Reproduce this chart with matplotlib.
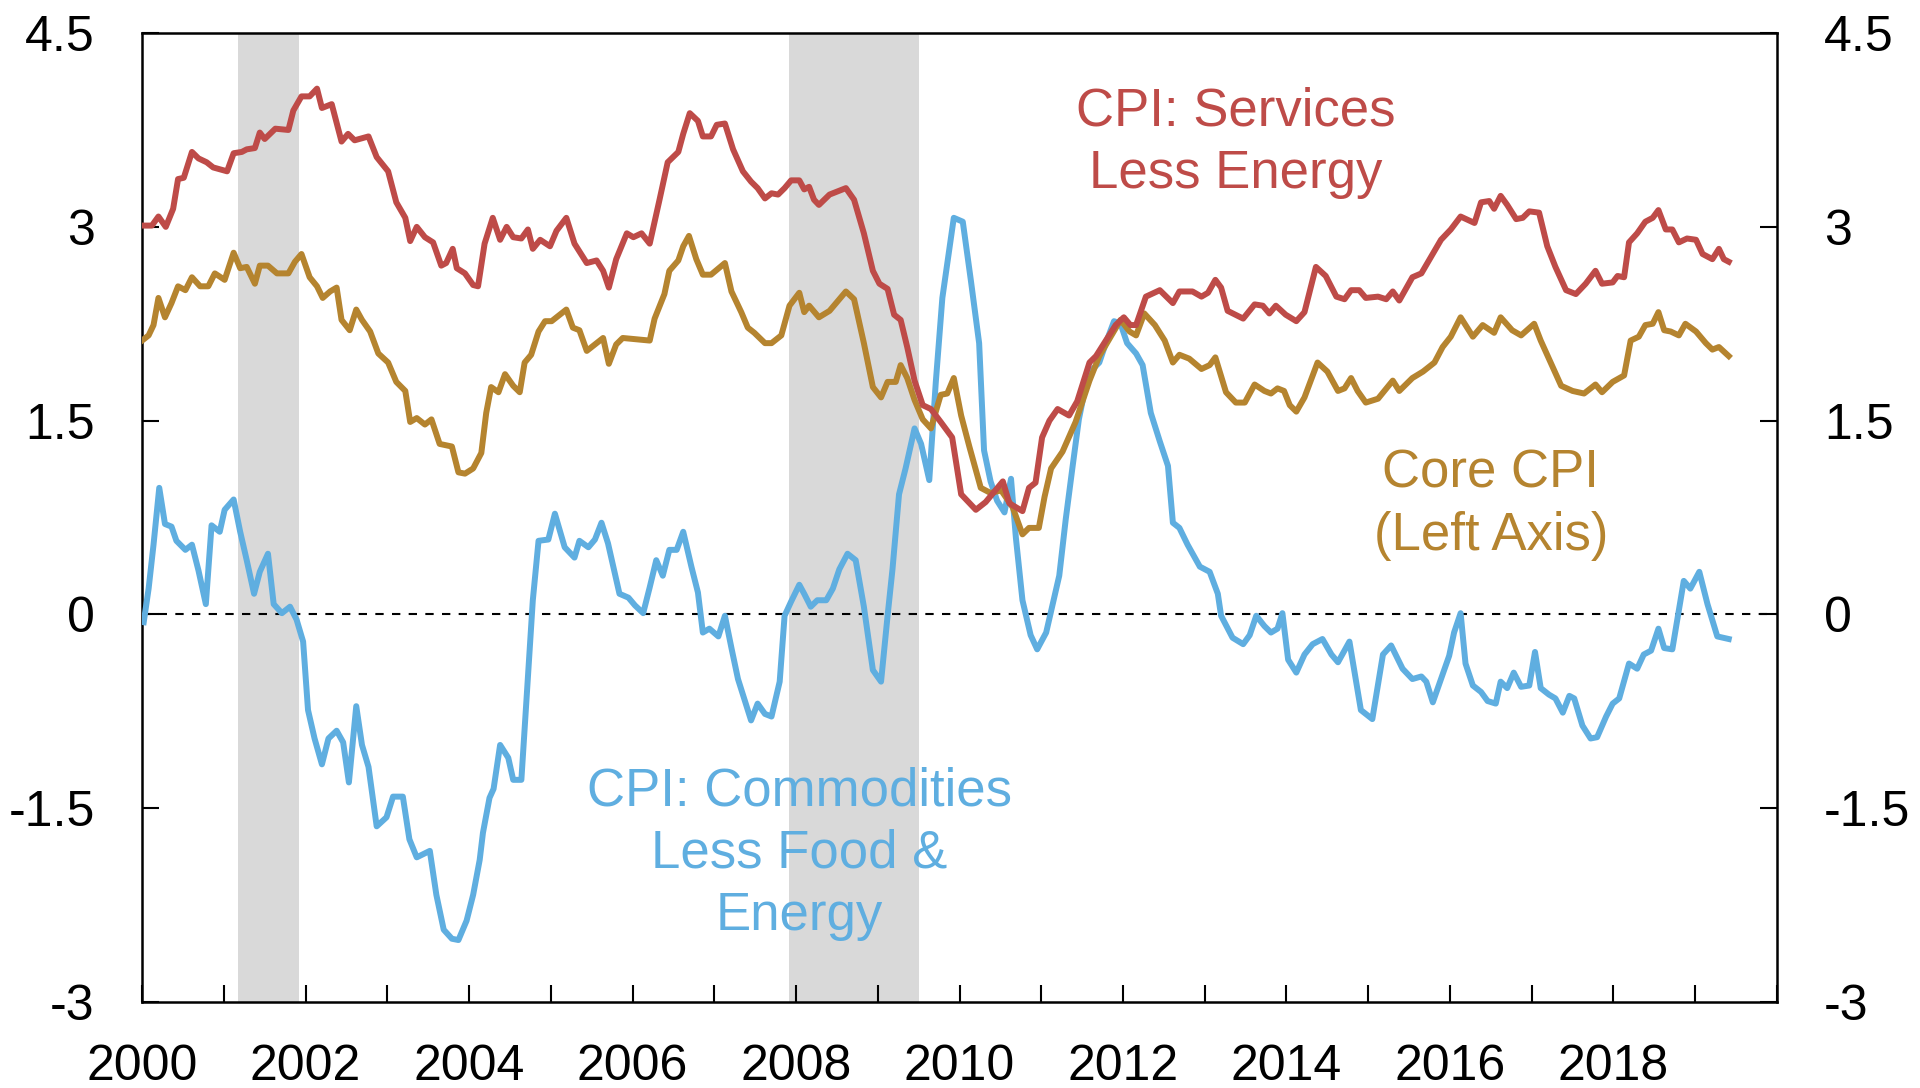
#!/usr/bin/env python

import matplotlib
matplotlib.use("Agg")
import matplotlib.pyplot as plt
from matplotlib.ticker import MultipleLocator

# ---- data (year fraction, y/y % change) ----
srv_years = [2000.0, 2000.12, 2000.20, 2000.29, 2000.38, 2000.44, 2000.51, 2000.61, 2000.69, 2000.79,
             2000.87, 2001.04, 2001.12, 2001.22, 2001.28, 2001.38, 2001.44, 2001.50, 2001.63, 2001.79,
             2001.85, 2001.95, 2002.05, 2002.14, 2002.20, 2002.32, 2002.44, 2002.52, 2002.60, 2002.77,
             2002.87, 2003.01, 2003.11, 2003.22, 2003.28, 2003.36, 2003.46, 2003.56, 2003.66, 2003.72,
             2003.80, 2003.85, 2003.95, 2004.05, 2004.11, 2004.19, 2004.29, 2004.38, 2004.46, 2004.54,
             2004.64, 2004.72, 2004.78, 2004.87, 2004.99, 2005.07, 2005.19, 2005.29, 2005.44, 2005.56,
             2005.64, 2005.71, 2005.80, 2005.93, 2006.01, 2006.11, 2006.21, 2006.33, 2006.43, 2006.56,
             2006.62, 2006.70, 2006.80, 2006.86, 2006.96, 2007.03, 2007.13, 2007.23, 2007.35, 2007.45,
             2007.53, 2007.62, 2007.70, 2007.78, 2007.86, 2007.94, 2008.04, 2008.10, 2008.16, 2008.22,
             2008.28, 2008.41, 2008.61, 2008.71, 2008.83, 2008.94, 2009.02, 2009.12, 2009.20, 2009.28,
             2009.36, 2009.45, 2009.55, 2009.65, 2009.77, 2009.91, 2010.02, 2010.20, 2010.32, 2010.53,
             2010.61, 2010.77, 2010.85, 2010.93, 2011.01, 2011.10, 2011.20, 2011.34, 2011.44, 2011.59,
             2011.67, 2011.79, 2011.91, 2012.01, 2012.09, 2012.16, 2012.28, 2012.45, 2012.61, 2012.69,
             2012.85, 2012.96, 2013.04, 2013.13, 2013.20, 2013.28, 2013.47, 2013.61, 2013.71, 2013.79,
             2013.87, 2013.99, 2014.12, 2014.22, 2014.36, 2014.48, 2014.61, 2014.71, 2014.79, 2014.89,
             2014.97, 2015.12, 2015.22, 2015.30, 2015.38, 2015.54, 2015.65, 2015.89, 2016.01, 2016.13,
             2016.30, 2016.38, 2016.48, 2016.54, 2016.62, 2016.70, 2016.81, 2016.89, 2016.97, 2017.09,
             2017.19, 2017.29, 2017.42, 2017.54, 2017.66, 2017.78, 2017.86, 2017.99, 2018.05, 2018.13,
             2018.19, 2018.29, 2018.39, 2018.48, 2018.55, 2018.64, 2018.72, 2018.80, 2018.90, 2019.01,
             2019.09, 2019.21, 2019.29, 2019.35, 2019.41]
srv_vals = [3.01, 3.01, 3.08, 3.00, 3.14, 3.37, 3.38, 3.58, 3.53, 3.50,
            3.46, 3.43, 3.57, 3.58, 3.60, 3.61, 3.73, 3.68, 3.76, 3.75,
            3.90, 4.01, 4.01, 4.07, 3.92, 3.95, 3.66, 3.72, 3.67, 3.70,
            3.54, 3.43, 3.19, 3.07, 2.89, 3.00, 2.92, 2.88, 2.70, 2.72,
            2.83, 2.68, 2.64, 2.55, 2.54, 2.87, 3.07, 2.90, 3.00, 2.92,
            2.91, 2.98, 2.83, 2.90, 2.85, 2.97, 3.07, 2.87, 2.72, 2.74,
            2.66, 2.53, 2.75, 2.95, 2.92, 2.95, 2.87, 3.21, 3.50, 3.58,
            3.72, 3.88, 3.82, 3.70, 3.70, 3.79, 3.80, 3.60, 3.43, 3.35,
            3.30, 3.22, 3.26, 3.25, 3.30, 3.36, 3.36, 3.29, 3.31, 3.21,
            3.17, 3.25, 3.30, 3.21, 2.95, 2.66, 2.56, 2.52, 2.32, 2.28,
            2.07, 1.81, 1.62, 1.59, 1.49, 1.37, 0.93, 0.81, 0.87, 1.03,
            0.86, 0.80, 0.98, 1.02, 1.37, 1.50, 1.59, 1.54, 1.65, 1.95,
            2.00, 2.12, 2.24, 2.30, 2.24, 2.24, 2.46, 2.51, 2.41, 2.50,
            2.50, 2.46, 2.49, 2.59, 2.53, 2.35, 2.29, 2.40, 2.39, 2.33,
            2.39, 2.32, 2.27, 2.34, 2.69, 2.62, 2.46, 2.44, 2.51, 2.51,
            2.45, 2.46, 2.44, 2.50, 2.43, 2.61, 2.64, 2.90, 2.98, 3.08,
            3.03, 3.19, 3.20, 3.14, 3.24, 3.17, 3.06, 3.07, 3.12, 3.11,
            2.85, 2.69, 2.51, 2.48, 2.56, 2.66, 2.56, 2.57, 2.62, 2.61,
            2.88, 2.95, 3.04, 3.07, 3.13, 2.98, 2.98, 2.88, 2.91, 2.90,
            2.79, 2.75, 2.83, 2.75, 2.73]

core_years = [2000.0, 2000.08, 2000.14, 2000.20, 2000.28, 2000.36, 2000.44, 2000.53, 2000.61, 2000.71,
              2000.81, 2000.89, 2001.01, 2001.12, 2001.20, 2001.28, 2001.38, 2001.44, 2001.54, 2001.65,
              2001.79, 2001.87, 2001.95, 2002.05, 2002.14, 2002.21, 2002.30, 2002.38, 2002.44, 2002.54,
              2002.62, 2002.69, 2002.79, 2002.89, 2003.01, 2003.11, 2003.22, 2003.28, 2003.36, 2003.46,
              2003.54, 2003.64, 2003.79, 2003.87, 2003.95, 2004.05, 2004.15, 2004.21, 2004.27, 2004.36,
              2004.44, 2004.54, 2004.62, 2004.68, 2004.76, 2004.85, 2004.93, 2005.01, 2005.11, 2005.19,
              2005.27, 2005.35, 2005.44, 2005.54, 2005.64, 2005.71, 2005.80, 2005.88, 2006.05, 2006.21,
              2006.27, 2006.39, 2006.45, 2006.56, 2006.62, 2006.69, 2006.78, 2006.86, 2006.96, 2007.13,
              2007.21, 2007.33, 2007.41, 2007.49, 2007.62, 2007.70, 2007.82, 2007.92, 2008.04, 2008.10,
              2008.16, 2008.28, 2008.41, 2008.61, 2008.71, 2008.83, 2008.94, 2009.04, 2009.12, 2009.22,
              2009.28, 2009.36, 2009.45, 2009.55, 2009.65, 2009.77, 2009.85, 2009.93, 2010.02, 2010.12,
              2010.26, 2010.38, 2010.51, 2010.65, 2010.77, 2010.85, 2010.97, 2011.04, 2011.12, 2011.26,
              2011.42, 2011.59, 2011.71, 2011.85, 2011.97, 2012.08, 2012.16, 2012.26, 2012.39, 2012.51,
              2012.61, 2012.69, 2012.81, 2012.96, 2013.06, 2013.13, 2013.26, 2013.38, 2013.49, 2013.61,
              2013.73, 2013.81, 2013.89, 2013.97, 2014.04, 2014.12, 2014.22, 2014.38, 2014.50, 2014.63,
              2014.71, 2014.79, 2014.87, 2014.97, 2015.12, 2015.30, 2015.38, 2015.54, 2015.67, 2015.81,
              2015.91, 2016.01, 2016.13, 2016.28, 2016.40, 2016.54, 2016.62, 2016.76, 2016.87, 2017.03,
              2017.11, 2017.21, 2017.36, 2017.50, 2017.64, 2017.78, 2017.86, 2017.99, 2018.13, 2018.21,
              2018.31, 2018.39, 2018.48, 2018.55, 2018.62, 2018.70, 2018.80, 2018.88, 2019.01, 2019.13,
              2019.21, 2019.29, 2019.41]
core_vals = [2.12, 2.16, 2.24, 2.45, 2.30, 2.41, 2.54, 2.51, 2.61, 2.54,
             2.54, 2.64, 2.59, 2.80, 2.68, 2.69, 2.56, 2.70, 2.70, 2.64,
             2.64, 2.73, 2.79, 2.61, 2.54, 2.45, 2.50, 2.53, 2.28, 2.20,
             2.36, 2.28, 2.19, 2.02, 1.95, 1.80, 1.73, 1.49, 1.52, 1.47,
             1.51, 1.32, 1.30, 1.10, 1.09, 1.13, 1.25, 1.56, 1.76, 1.72,
             1.86, 1.77, 1.72, 1.95, 2.01, 2.19, 2.27, 2.27, 2.32, 2.36,
             2.22, 2.20, 2.04, 2.09, 2.14, 1.94, 2.09, 2.14, 2.13, 2.12,
             2.29, 2.48, 2.66, 2.74, 2.85, 2.93, 2.75, 2.63, 2.63, 2.72,
             2.50, 2.34, 2.22, 2.18, 2.10, 2.10, 2.16, 2.39, 2.49, 2.34,
             2.39, 2.30, 2.35, 2.50, 2.44, 2.10, 1.76, 1.68, 1.80, 1.80,
             1.93, 1.83, 1.66, 1.51, 1.44, 1.70, 1.71, 1.83, 1.54, 1.30,
             0.98, 0.94, 0.96, 0.83, 0.62, 0.67, 0.67, 0.91, 1.13, 1.26,
             1.49, 1.81, 2.00, 2.15, 2.28, 2.19, 2.16, 2.33, 2.24, 2.12,
             1.95, 2.01, 1.98, 1.90, 1.93, 1.99, 1.72, 1.64, 1.64, 1.78,
             1.73, 1.71, 1.75, 1.73, 1.62, 1.57, 1.68, 1.95, 1.88, 1.73,
             1.75, 1.83, 1.73, 1.64, 1.67, 1.81, 1.73, 1.83, 1.88, 1.95,
             2.07, 2.15, 2.30, 2.15, 2.24, 2.18, 2.30, 2.20, 2.16, 2.25,
             2.12, 1.98, 1.77, 1.73, 1.71, 1.78, 1.72, 1.80, 1.85, 2.12,
             2.15, 2.24, 2.25, 2.34, 2.20, 2.19, 2.16, 2.25, 2.19, 2.10,
             2.05, 2.07, 2.00]

cmd_years = [2000.02, 2000.08, 2000.14, 2000.21, 2000.28, 2000.36, 2000.42, 2000.53, 2000.61, 2000.69,
             2000.78, 2000.85, 2000.95, 2001.01, 2001.12, 2001.20, 2001.28, 2001.37, 2001.44, 2001.54,
             2001.61, 2001.71, 2001.81, 2001.89, 2001.97, 2002.03, 2002.11, 2002.20, 2002.28, 2002.38,
             2002.46, 2002.53, 2002.62, 2002.69, 2002.77, 2002.87, 2002.99, 2003.07, 2003.19, 2003.27,
             2003.36, 2003.52, 2003.60, 2003.69, 2003.79, 2003.87, 2003.97, 2004.05, 2004.13, 2004.17,
             2004.25, 2004.30, 2004.38, 2004.48, 2004.54, 2004.64, 2004.72, 2004.78, 2004.85, 2004.97,
             2005.05, 2005.17, 2005.29, 2005.35, 2005.46, 2005.54, 2005.62, 2005.70, 2005.84, 2005.95,
             2006.03, 2006.13, 2006.21, 2006.29, 2006.37, 2006.45, 2006.54, 2006.62, 2006.72, 2006.80,
             2006.86, 2006.94, 2007.05, 2007.13, 2007.21, 2007.29, 2007.37, 2007.45, 2007.53, 2007.62,
             2007.70, 2007.80, 2007.86, 2007.94, 2008.04, 2008.10, 2008.18, 2008.26, 2008.37, 2008.45,
             2008.53, 2008.63, 2008.73, 2008.83, 2008.94, 2009.04, 2009.12, 2009.18, 2009.26, 2009.34,
             2009.45, 2009.53, 2009.63, 2009.71, 2009.79, 2009.93, 2010.04, 2010.14, 2010.24, 2010.30,
             2010.38, 2010.46, 2010.55, 2010.63, 2010.69, 2010.77, 2010.87, 2010.95, 2011.06, 2011.14,
             2011.22, 2011.30, 2011.38, 2011.46, 2011.54, 2011.63, 2011.71, 2011.79, 2011.89, 2011.97,
             2012.05, 2012.16, 2012.24, 2012.34, 2012.45, 2012.55, 2012.61, 2012.69, 2012.79, 2012.94,
             2013.06, 2013.16, 2013.20, 2013.34, 2013.47, 2013.55, 2013.63, 2013.73, 2013.81, 2013.89,
             2013.95, 2014.02, 2014.12, 2014.22, 2014.32, 2014.44, 2014.55, 2014.63, 2014.77, 2014.91,
             2015.05, 2015.18, 2015.28, 2015.42, 2015.54, 2015.65, 2015.71, 2015.79, 2015.89, 2015.99,
             2016.05, 2016.13, 2016.19, 2016.28, 2016.38, 2016.46, 2016.56, 2016.62, 2016.70, 2016.78,
             2016.87, 2016.97, 2017.04, 2017.11, 2017.21, 2017.29, 2017.38, 2017.46, 2017.52, 2017.62,
             2017.72, 2017.80, 2017.91, 2017.99, 2018.07, 2018.19, 2018.29, 2018.37, 2018.46, 2018.55,
             2018.62, 2018.72, 2018.86, 2018.94, 2019.05, 2019.15, 2019.27, 2019.41]
cmd_vals = [-0.06, 0.20, 0.54, 0.98, 0.70, 0.68, 0.57, 0.50, 0.54, 0.34,
            0.08, 0.69, 0.64, 0.81, 0.89, 0.64, 0.42, 0.16, 0.33, 0.47,
            0.08, 0.01, 0.06, -0.04, -0.21, -0.74, -0.96, -1.16, -0.96, -0.90,
            -0.99, -1.30, -0.71, -1.01, -1.18, -1.64, -1.57, -1.41, -1.41, -1.74,
            -1.88, -1.83, -2.17, -2.44, -2.51, -2.52, -2.37, -2.17, -1.90, -1.69,
            -1.42, -1.35, -1.01, -1.11, -1.28, -1.28, -0.48, 0.11, 0.57, 0.58,
            0.78, 0.52, 0.44, 0.57, 0.52, 0.58, 0.71, 0.55, 0.16, 0.13,
            0.07, 0.01, 0.21, 0.42, 0.30, 0.50, 0.50, 0.64, 0.37, 0.17,
            -0.14, -0.11, -0.17, -0.01, -0.26, -0.50, -0.66, -0.82, -0.69, -0.77,
            -0.79, -0.52, -0.01, 0.10, 0.23, 0.16, 0.06, 0.11, 0.11, 0.20,
            0.35, 0.47, 0.42, 0.06, -0.43, -0.52, -0.01, 0.35, 0.93, 1.13,
            1.44, 1.32, 1.04, 1.80, 2.45, 3.07, 3.04, 2.58, 2.10, 1.27,
            1.03, 0.88, 0.79, 1.05, 0.59, 0.11, -0.16, -0.27, -0.14, 0.08,
            0.30, 0.74, 1.13, 1.51, 1.76, 1.90, 1.95, 2.10, 2.27, 2.25,
            2.10, 2.02, 1.93, 1.56, 1.34, 1.15, 0.71, 0.67, 0.54, 0.37,
            0.33, 0.16, -0.01, -0.18, -0.23, -0.16, -0.01, -0.09, -0.14, -0.11,
            0.01, -0.35, -0.45, -0.31, -0.23, -0.19, -0.31, -0.37, -0.21, -0.74,
            -0.81, -0.31, -0.24, -0.42, -0.50, -0.48, -0.52, -0.68, -0.50, -0.32,
            -0.14, 0.01, -0.38, -0.55, -0.60, -0.67, -0.69, -0.52, -0.57, -0.45,
            -0.56, -0.55, -0.29, -0.57, -0.62, -0.65, -0.76, -0.63, -0.65, -0.86,
            -0.96, -0.95, -0.79, -0.69, -0.65, -0.38, -0.42, -0.31, -0.28, -0.11,
            -0.26, -0.27, 0.26, 0.20, 0.33, 0.08, -0.17, -0.19]

recessions = [(2001.17, 2001.92), (2007.92, 2009.50)]

RED = "#BE4B48"
GOLD = "#B5842F"
BLUE = "#5FAEE0"


def main():
    plt.rcParams["font.family"] = ["Liberation Sans", "DejaVu Sans"]
    fig = plt.figure(figsize=(19.2, 10.88), dpi=100)
    ax = fig.add_axes([0.074, 0.079, 0.8515, 0.8906])

    for start, end in recessions:
        ax.axvspan(start, end, color="#D9D9D9", lw=0, zorder=0)

    ax.axhline(0, color="black", lw=1.5, ls=(0, (4, 4)), zorder=1)

    ax.plot(cmd_years, cmd_vals, color=BLUE, lw=4.3, zorder=3, solid_joinstyle="round")
    ax.plot(core_years, core_vals, color=GOLD, lw=4.3, zorder=4, solid_joinstyle="round")
    ax.plot(srv_years, srv_vals, color=RED, lw=4.3, zorder=5, solid_joinstyle="round")

    ax.set_xlim(2000, 2020)
    ax.set_ylim(-3, 4.5)

    # yearly ticks, labels every other year
    ax.xaxis.set_major_locator(MultipleLocator(2))
    ax.xaxis.set_minor_locator(MultipleLocator(1))
    ax.xaxis.set_major_formatter(lambda v, p: f"{int(round(v))}" if v < 2019.5 else "")
    ax.yaxis.set_major_locator(MultipleLocator(1.5))
    ax.yaxis.set_major_formatter(lambda v, p: f"{v:g}")

    ax.tick_params(axis="x", which="both", direction="in", length=12, width=1.5,
                   labelsize=36, pad=30, top=False)
    ax.tick_params(axis="y", which="major", direction="in", length=12, width=1.5,
                   labelsize=36, pad=34, left=True, right=True, labelleft=True, labelright=True)
    for sp in ax.spines.values():
        sp.set_linewidth(1.8)

    ax.text(2013.38, 3.65, "CPI: Services\nLess Energy", color=RED, fontsize=38,
            ha="center", va="center", linespacing=1.31)
    ax.text(2016.5, 0.85, "Core CPI\n(Left Axis)", color=GOLD, fontsize=38,
            ha="center", va="center", linespacing=1.31)
    ax.text(2008.04, -1.85, "CPI: Commodities\nLess Food &\nEnergy", color=BLUE, fontsize=38,
            ha="center", va="center", linespacing=1.31)

    fig.savefig("out.png", dpi=100)


if __name__ == "__main__":
    main()
